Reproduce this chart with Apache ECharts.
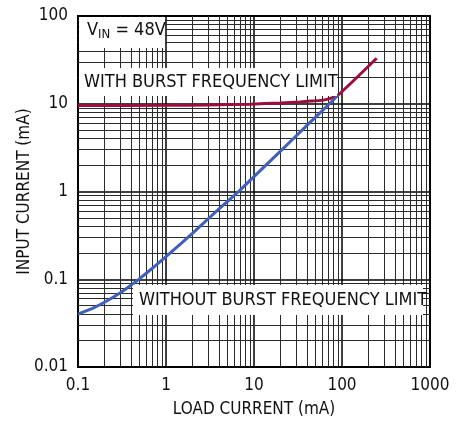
<!DOCTYPE html>
<html><head><meta charset="utf-8">
<script src="https://cdn.jsdelivr.net/npm/echarts@6/dist/echarts.min.js"></script>
<style>html,body{margin:0;padding:0;background:#fff}#c{width:466px;height:426px}</style>
</head><body><div id="c"></div>
<script>
// ---- data ----
const withBurstX = [0.1, 1, 3, 9, 20, 33, 50, 61, 75, 90.8, 248];
const withBurstY = [9.55, 9.6, 9.7, 9.9, 10.2, 10.5, 10.8, 11.0, 11.6, 12.6, 33];
const withoutBurstX = [0.1, 0.15, 0.2, 0.3, 0.4, 0.49, 0.7, 1, 1.5, 2, 3, 4.5, 6.7, 10, 20, 40, 72, 90.8];
const withoutBurstY = [0.040, 0.0472, 0.0546, 0.0697, 0.0853, 0.0998, 0.1334, 0.181, 0.258, 0.334, 0.486, 0.705, 1.0, 1.48, 2.89, 5.66, 10, 12.6];
const xMinorGrid = [0.2,0.3,0.4,0.5,0.6,0.7,0.8,0.9,2,3,4,5,6,7,8,9,20,30,40,50,60,70,80,90,200,300,400,500,600,700,800,900];
const yMinorGrid = [0.02,0.03,0.04,0.05,0.06,0.07,0.08,0.09,0.2,0.3,0.4,0.5,0.6,0.7,0.8,0.9,2,3,4,5,6,7,8,9,20,30,40,50,60,70,80,90];
const xTickLabels = {0.1:'0.1',1:'1',10:'10',100:'100',1000:'1000'};
const yTickLabels = {0.01:'0.01',0.1:'0.1',1:'1',10:'10',100:'100'};
const xName = 'LOAD CURRENT (mA)';
const yName = 'INPUT CURRENT (mA)';
const noteVin = ['V', 'IN', ' = 48V'];
const noteWith = 'WITH BURST FREQUENCY LIMIT';
const noteWithout = 'WITHOUT BURST FREQUENCY LIMIT';
// ---------------
const FONT = "'Liberation Sans Narrow','DejaVu Sans Condensed','Liberation Sans',sans-serif";
const zip = (xs, ys) => xs.map((x, i) => [x, ys[i]]);
const fmt = (map) => (v) => { for (const k in map) { if (Math.abs(Math.log10(v) - Math.log10(+k)) < 1e-6) return map[k]; } return ''; };

const chart = echarts.init(document.getElementById('c'), null, {renderer: 'canvas'});
chart.setOption({
  animation: false,
  backgroundColor: '#fff',
  grid: {left: 78, right: 36, top: 16, bottom: 59, show: true, borderColor: '#000', borderWidth: 2, backgroundColor: 'transparent'},
  xAxis: {
    type: 'log', logBase: 10, min: 0.1, max: 1000,
    name: xName, nameLocation: 'middle', nameGap: 34, nameMoveOverlap: false,
    nameTextStyle: {color: '#111', fontSize: 17, fontFamily: FONT},
    axisLine: {show: true, lineStyle: {color: '#000', width: 2}},
    axisTick: {show: false},
    axisLabel: {color: '#111', fontSize: 17, fontFamily: FONT, margin: 10, formatter: fmt(xTickLabels)},
    splitLine: {show: true, lineStyle: {color: '#000', width: 1.5}}
  },
  yAxis: {
    type: 'log', logBase: 10, min: 0.01, max: 100,
    name: yName, nameLocation: 'middle', nameGap: 45, nameMoveOverlap: false,
    nameTextStyle: {color: '#111', fontSize: 17, fontFamily: FONT},
    axisLine: {show: true, lineStyle: {color: '#000', width: 2}},
    axisTick: {show: false},
    axisLabel: {color: '#111', fontSize: 17, fontFamily: FONT, margin: 10, formatter: fmt(yTickLabels)},
    splitLine: {show: true, lineStyle: {color: '#000', width: 1.5}}
  },
  series: [
    {
      type: 'line', data: [], silent: true,
      markLine: {
        silent: true, symbol: 'none', label: {show: false}, animation: false,
        lineStyle: {color: '#2a2a2a', width: 1, type: 'solid'},
        data: xMinorGrid.map(v => ({xAxis: v})).concat(yMinorGrid.map(v => ({yAxis: v})))
      }
    },
    {
      name: noteWith, type: 'line', data: zip(withBurstX, withBurstY), smooth: 0.15,
      showSymbol: false, lineStyle: {color: '#9c0d3c', width: 3}, z: 5
    },
    {
      name: noteWithout, type: 'line', data: zip(withoutBurstX, withoutBurstY), smooth: 0.2,
      showSymbol: false, lineStyle: {color: '#3f5fb8', width: 3}, z: 6
    }
  ],
  graphic: [
    {type: 'rect', left: 79, top: 17, shape: {width: 86, height: 31}, style: {fill: '#fff'}, z: 10},
    {type: 'text', left: 87, top: 21, z: 11, style: {
      text: '{a|' + noteVin[0] + '}{b|' + noteVin[1] + '}{a|' + noteVin[2] + '}',
      rich: {a: {fontSize: 18, fontFamily: FONT, fill: '#111'}, b: {fontSize: 13, fontFamily: FONT, fill: '#111', verticalAlign: 'bottom', padding: [10,0,0,0]}}
    }},
    {type: 'rect', left: 79, top: 68, shape: {width: 258, height: 28}, style: {fill: '#fff'}, z: 10},
    {type: 'text', left: 84, top: 73, z: 11, style: {text: noteWith, fontSize: 18, fontFamily: FONT, fill: '#111'}},
    {type: 'rect', left: 133, top: 285, shape: {width: 290, height: 30}, style: {fill: '#fff'}, z: 10},
    {type: 'text', left: 139, top: 291, z: 11, style: {text: noteWithout, fontSize: 18, fontFamily: FONT, fill: '#111'}}
  ]
});
</script></body></html>
